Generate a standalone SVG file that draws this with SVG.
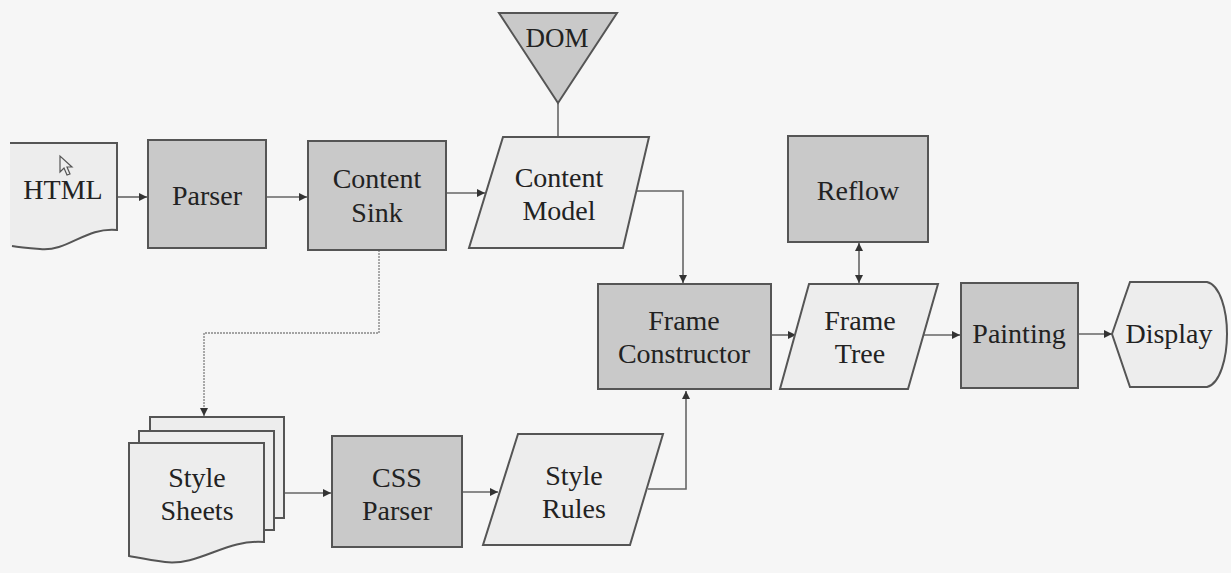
<svg xmlns="http://www.w3.org/2000/svg" width="1231" height="573" viewBox="0 0 1231 573">
<defs>
<marker id="arr" viewBox="0 0 10 10" refX="10" refY="5" markerWidth="8" markerHeight="8" markerUnits="userSpaceOnUse" orient="auto-start-reverse">
<path d="M0,0 L10,5 L0,10 Z" fill="#333"/>
</marker>
<style>
.bg{fill:#f6f6f6}
.dark{fill:#c9c9c9;stroke:#555;stroke-width:2}
.light{fill:#ededed;stroke:#555;stroke-width:2}
.fillonly{fill:#ededed;stroke:none}
.edge{fill:none;stroke:#555;stroke-width:2}
.t{font-family:"Liberation Serif","Times New Roman",serif;font-size:28px;fill:#222;text-anchor:middle}
.con{fill:none;stroke:#666;stroke-width:1.6}
.faint{fill:none;stroke:#888;stroke-width:1.4;stroke-dasharray:2 1}
</style>
</defs>
<rect class="bg" x="0" y="0" width="1231" height="573"/>

<g id="connectors">
<path class="con" d="M118,197 H147" marker-end="url(#arr)"/>
<path class="con" d="M266,197 H307" marker-end="url(#arr)"/>
<path class="con" d="M447,193 H485" marker-end="url(#arr)"/>
<path class="con" d="M558,103 V137"/>
<path class="con" d="M633,191 H683 V283" marker-end="url(#arr)"/>
<path class="con" d="M771,335 H796" marker-end="url(#arr)"/>
<path class="con" d="M859,243 V283" marker-start="url(#arr)" marker-end="url(#arr)"/>
<path class="con" d="M924,335 H960" marker-end="url(#arr)"/>
<path class="con" d="M1078,334 H1112" marker-end="url(#arr)"/>
<path class="faint" d="M379,250 V333 H204 V416" marker-end="url(#arr)"/>
<path class="con" d="M284,493 H331" marker-end="url(#arr)"/>
<path class="con" d="M462,492 H498" marker-end="url(#arr)"/>
<path class="con" d="M648,489 H686 V391" marker-end="url(#arr)"/>
</g>

<g id="html">
<path class="fillonly" d="M10,143 H117 V230 C85,227 68,252 40,249 C28,248 18,247 10,246 Z"/>
<path class="edge" d="M10,143 H117 V230 C85,227 68,252 40,249 C28,248 18,247 12,246"/>
<path d="M60,156 L60,172 L64,168 L67,175 L70,174 L67,167 L72,167 Z" fill="#eee" stroke="#555" stroke-width="1.2"/>
<text class="t" x="63" y="199">HTML</text>
</g>

<g id="parser">
<rect class="dark" x="148" y="140" width="118" height="108"/>
<text class="t" x="207" y="205">Parser</text>
</g>

<g id="content-sink">
<rect class="dark" x="308" y="141" width="138" height="109"/>
<text class="t" x="377" y="188">Content</text>
<text class="t" x="377" y="222">Sink</text>
</g>

<g id="dom">
<path class="dark" d="M499,13 H617 L558,103 Z"/>
<text class="t" x="557" y="47" style="font-size:27px">DOM</text>
</g>

<g id="content-model">
<path class="light" d="M503,137 H649 L623,248 H469 Z"/>
<text class="t" x="559" y="187">Content</text>
<text class="t" x="559" y="220">Model</text>
</g>

<g id="reflow">
<rect class="dark" x="788" y="136" width="140" height="106"/>
<text class="t" x="858" y="200">Reflow</text>
</g>

<g id="frame-constructor">
<rect class="dark" x="598" y="284" width="173" height="105"/>
<text class="t" x="684" y="330">Frame</text>
<text class="t" x="684" y="363">Constructor</text>
</g>

<g id="frame-tree">
<path class="light" d="M809,284 H938 L908,389 H780 Z"/>
<text class="t" x="860" y="330">Frame</text>
<text class="t" x="860" y="363">Tree</text>
</g>

<g id="painting">
<rect class="dark" x="961" y="283" width="117" height="105"/>
<text class="t" x="1019" y="343">Painting</text>
</g>

<g id="display">
<path class="light" d="M1112,334 L1130,282 H1207 C1220,285 1227,310 1227,334 C1227,358 1220,384 1207,387 H1130 Z"/>
<text class="t" x="1169" y="343">Display</text>
</g>

<g id="style-sheets">
<rect class="light" x="150" y="417" width="134" height="101"/>
<rect class="light" x="139" y="431" width="135" height="99"/>
<path class="light" d="M129,443 H264 V542 C225,539 200,566 165,562 C150,560 140,558 129,556 Z"/>
<text class="t" x="197" y="487">Style</text>
<text class="t" x="197" y="520">Sheets</text>
</g>

<g id="css-parser">
<rect class="dark" x="332" y="436" width="130" height="111"/>
<text class="t" x="397" y="487">CSS</text>
<text class="t" x="397" y="520">Parser</text>
</g>

<g id="style-rules">
<path class="light" d="M518,434 H663 L630,545 H483 Z"/>
<text class="t" x="574" y="485">Style</text>
<text class="t" x="574" y="518">Rules</text>
</g>
</svg>
